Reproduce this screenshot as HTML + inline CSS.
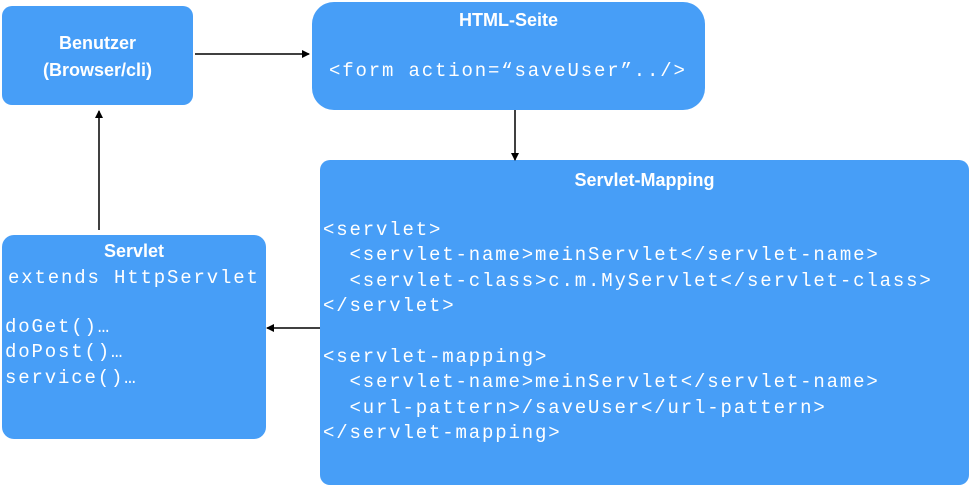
<!DOCTYPE html>
<html><head><meta charset="utf-8"><style>
body{margin:0;width:970px;height:486px;background:#fff;position:relative;overflow:hidden}
.b{position:absolute;background:#479ef7;color:#fff}
.t{position:absolute;left:0;right:0;text-align:center;font:bold 18px "Liberation Sans",sans-serif}
.m{position:absolute;font:19px "Liberation Mono",monospace;letter-spacing:1.85px;white-space:pre;line-height:25.4px}
</style></head><body>
<div class="b" style="left:2px;top:6px;width:191px;height:99px;border-radius:10px">
<div class="t" style="top:27px">Benutzer</div><div class="t" style="top:54px">(Browser/cli)</div></div>
<div class="b" style="left:312px;top:2px;width:393px;height:108px;border-radius:22px">
<div class="t" style="top:8px">HTML-Seite</div>
<div class="m" style="left:17px;top:57px">&lt;form action=“saveUser”../&gt;</div></div>
<div class="b" style="left:320px;top:160px;width:649px;height:325px;border-radius:10px">
<div class="t" style="top:10px">Servlet-Mapping</div>
<div class="m" style="left:3px;top:58px">&lt;servlet&gt;
  &lt;servlet-name&gt;meinServlet&lt;/servlet-name&gt;
  &lt;servlet-class&gt;c.m.MyServlet&lt;/servlet-class&gt;
&lt;/servlet&gt;

&lt;servlet-mapping&gt;
  &lt;servlet-name&gt;meinServlet&lt;/servlet-name&gt;
  &lt;url-pattern&gt;/saveUser&lt;/url-pattern&gt;
&lt;/servlet-mapping&gt;</div></div>
<div class="b" style="left:2px;top:235px;width:264px;height:204px;border-radius:12px">
<div class="t" style="top:6px">Servlet</div>
<div class="m" style="left:6px;top:31px">extends HttpServlet</div>
<div class="m" style="left:3px;top:80px">doGet()…
doPost()…
service()…</div></div>
<svg width="970" height="486" style="position:absolute;left:0;top:0">
<defs><marker id="a" markerWidth="8" markerHeight="8" refX="7" refY="4" orient="auto" markerUnits="userSpaceOnUse"><path d="M0,0L8,4L0,8z" fill="#000"/></marker></defs>
<g stroke="#000" stroke-width="1.5" marker-end="url(#a)">
<line x1="195" y1="54" x2="309" y2="54"/>
<line x1="515" y1="110" x2="515" y2="160"/>
<line x1="320" y1="328" x2="267" y2="328"/>
<line x1="99" y1="230" x2="99" y2="111"/>
</g></svg>
</body></html>
